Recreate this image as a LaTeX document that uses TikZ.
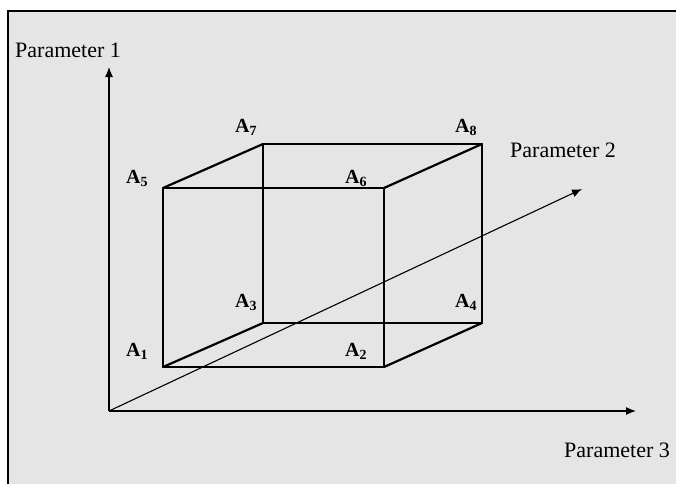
\documentclass[tikz,border=0pt]{standalone}
\usepackage{fontspec}
\setmainfont{Liberation Serif}
\usetikzlibrary{arrows.meta}
\definecolor{bggray}{RGB}{229,229,229}
\newcommand{\vlab}[1]{\textbf{A}\raisebox{-0.35ex}{\fontsize{14}{14}\selectfont\bfseries #1}}
\tikzset{
  edge/.style={line width=2.2pt, line cap=round, line join=round},
  axis/.style={line width=1.1pt, -{Latex[length=10pt,width=8pt]}},
  vtx/.style={anchor=base west, inner sep=0pt, font=\fontsize{20}{20}\selectfont},
  ptxt/.style={anchor=base west, inner sep=0pt, font=\fontsize{22}{22}\selectfont}
}
\begin{document}
\begin{tikzpicture}[x=1pt,y=-1pt]
\useasboundingbox (0,0) rectangle (676,483);
\fill[bggray] (7.5,10.5) rectangle (677,484);
\draw[line width=2pt] (7.5,484) -- (7.5,10.5) -- (677,10.5);
% axes
\coordinate (O) at (109,411);
\coordinate (Y) at (109,67);
\coordinate (X) at (636,411);
\coordinate (Z) at (582,189);
\draw[axis] (O) -- (Y);
\draw[axis] (O) -- (X);
\draw[axis] (O) -- (Z);
% cube corners
\coordinate (A1) at (163,367);
\coordinate (A2) at (384,367);
\coordinate (A3) at (263,323);
\coordinate (A4) at (482,323);
\coordinate (A5) at (163,188);
\coordinate (A6) at (384,188);
\coordinate (A7) at (263,144);
\coordinate (A8) at (482,144);
\draw[edge] (A1) -- (A2) -- (A6) -- (A5) -- cycle;
\draw[edge] (A3) -- (A4) -- (A8) -- (A7) -- cycle;
\draw[edge] (A1) -- (A3);
\draw[edge] (A2) -- (A4);
\draw[edge] (A5) -- (A7);
\draw[edge] (A6) -- (A8);
% vertex labels
\node[vtx] (L1) at (126,356) {\vlab{1}};
\node[vtx] (L2) at (345,356) {\vlab{2}};
\node[vtx] (L3) at (235,307) {\vlab{3}};
\node[vtx] (L4) at (455,307) {\vlab{4}};
\node[vtx] (L5) at (126,183) {\vlab{5}};
\node[vtx] (L6) at (345,183) {\vlab{6}};
\node[vtx] (L7) at (235,132) {\vlab{7}};
\node[vtx] (L8) at (455,132) {\vlab{8}};
% axis labels
\node[ptxt] (P1) at (15,57) {Parameter 1};
\node[ptxt] (P2) at (510,157) {Parameter 2};
\node[ptxt] (P3) at (564,457) {Parameter 3};
\end{tikzpicture}
\end{document}
